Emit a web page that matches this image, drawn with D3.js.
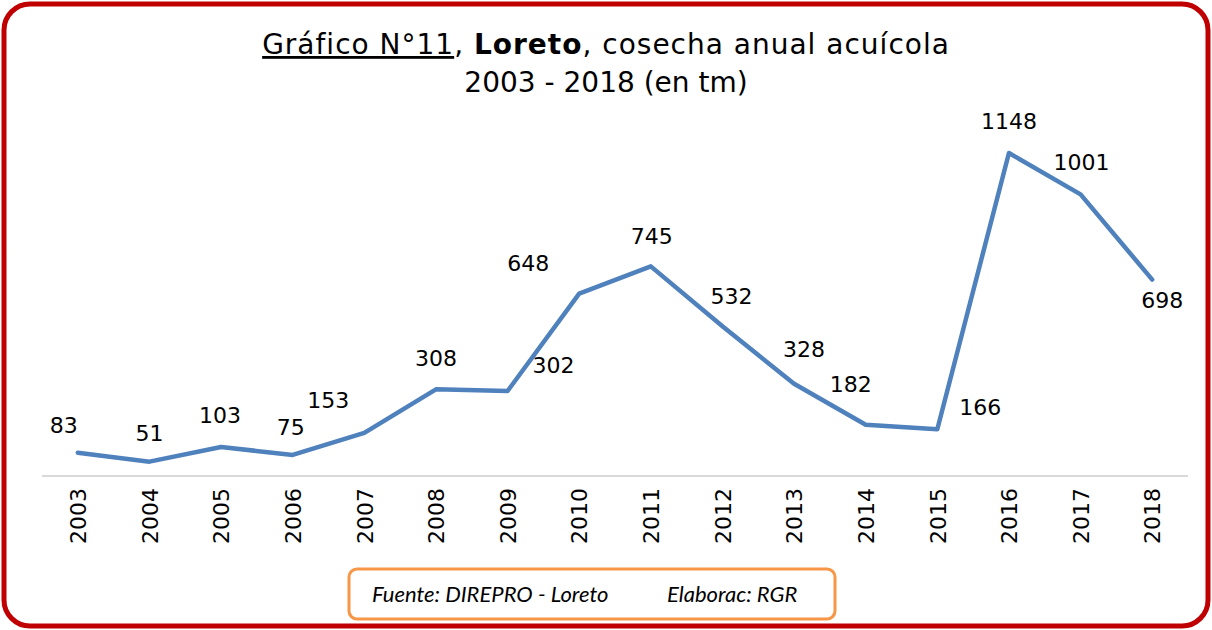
<!DOCTYPE html>
<html>
<head>
<meta charset="utf-8">
<script src="https://cdn.jsdelivr.net/npm/d3@7"></script>
<style>
  body { margin: 0; background: #fff; }
  svg { display: block; }
</style>
</head>
<body>
<svg id="chart" width="1212" height="630"></svg>
<script>

// data
const years = [ "2003", "2004", "2005", "2006", "2007", "2008", "2009", "2010",
                "2011", "2012", "2013", "2014", "2015", "2016", "2017", "2018" ];
const harvest = [ 83, 51, 103, 75, 153, 308, 302, 648, 745, 532, 328, 182, 166, 1148, 1001, 698 ];

// where each value label sits relative to its point (like Excel's manual placement)
const labelOffsets = [
  [ -14, -20 ], [ 0, -21 ], [ -1, -24 ], [ -2, -20 ], [ -36, -25 ], [ 0, -23 ],
  [ 46, -18 ], [ -51, -23 ], [ 1, -22 ], [ 9, -22 ], [ 10, -27 ], [ -15, -33 ],
  [ 43, -14 ], [ 0, -24 ], [ 1, -24 ], [ 10, 28 ]
];

const width = 1212, height = 630;
const svg = d3.select( "#chart" );
const font = "'DejaVu Sans', sans-serif";

// outer red frame
svg.append( "rect" )
  .attr( "x", 4 ).attr( "y", 4 )
  .attr( "width", width - 8 ).attr( "height", height - 8 )
  .attr( "rx", 26 ).attr( "ry", 26 )
  .attr( "fill", "#fff" )
  .attr( "stroke", "#C00000" )
  .attr( "stroke-width", 5 );

// title
const title = svg.append( "text" )
  .attr( "x", 606 ).attr( "y", 54 )
  .attr( "text-anchor", "middle" )
  .style( "font-family", font )
  .style( "font-size", "28px" )
  .style( "letter-spacing", "1px" )
  .attr( "fill", "#000" );
title.append( "tspan" ).attr( "text-decoration", "underline" ).text( "Gráfico N°11" );
title.append( "tspan" ).text( ", " );
title.append( "tspan" ).style( "font-weight", "bold" ).text( "Loreto" );
title.append( "tspan" ).text( ", cosecha anual acuícola" );

svg.append( "text" )
  .attr( "x", 606 ).attr( "y", 92 )
  .attr( "text-anchor", "middle" )
  .style( "font-family", font )
  .style( "font-size", "28px" )
  .text( "2003 - 2018 (en tm)" );

// scales
const x = d3.scalePoint()
  .domain( years )
  .range( [ 42, 1188 ] )
  .padding( 0.5 );

const y = d3.scaleLinear()
  .domain( [ 0, 1148 ] )
  .range( [ 476, 153 ] );

// x axis
const xAxis = svg.append( "g" )
  .attr( "transform", "translate(0," + y( 0 ) + ")" )
  .call( d3.axisBottom( x ).tickSize( 0 ).tickPadding( 0 ) );

xAxis.select( ".domain" )
  .attr( "d", "M42,0H1188" )
  .attr( "stroke", "#D9D9D9" )
  .attr( "stroke-width", 2 );

xAxis.selectAll( "text" )
  .attr( "transform", "rotate(-90)" )
  .attr( "x", -12 ).attr( "y", 0 )
  .attr( "dy", "0.35em" )
  .attr( "text-anchor", "end" )
  .style( "font-family", font )
  .style( "font-size", "22px" )
  .attr( "fill", "#000" );

// line
const line = d3.line()
  .x( ( d, i ) => x( years[ i ] ) )
  .y( d => y( d ) );

svg.append( "path" )
  .datum( harvest )
  .attr( "d", line )
  .attr( "fill", "none" )
  .attr( "stroke", "#4F81BD" )
  .attr( "stroke-width", 4.5 )
  .attr( "stroke-linejoin", "round" )
  .attr( "stroke-linecap", "round" );

// value labels
svg.selectAll( "text.valueLabel" )
  .data( harvest )
  .enter().append( "text" )
    .attr( "class", "valueLabel" )
    .attr( "x", ( d, i ) => x( years[ i ] ) + labelOffsets[ i ][ 0 ] )
    .attr( "y", ( d, i ) => y( d ) + labelOffsets[ i ][ 1 ] )
    .attr( "text-anchor", "middle" )
    .style( "font-family", font )
    .style( "font-size", "22px" )
    .attr( "fill", "#000" )
    .text( d => d );

// source box
svg.append( "rect" )
  .attr( "x", 349 ).attr( "y", 569 )
  .attr( "width", 486 ).attr( "height", 50 )
  .attr( "rx", 8 ).attr( "ry", 8 )
  .attr( "fill", "#fff" )
  .attr( "stroke", "#F79646" )
  .attr( "stroke-width", 3 );

svg.append( "text" )
  .attr( "x", 372 ).attr( "y", 602 )
  .style( "font-family", "Lato, sans-serif" )
  .style( "font-style", "italic" )
  .style( "font-size", "22px" )
  .text( "Fuente: DIREPRO - Loreto" );

svg.append( "text" )
  .attr( "x", 667 ).attr( "y", 602 )
  .style( "font-family", "Lato, sans-serif" )
  .style( "font-style", "italic" )
  .style( "font-size", "22px" )
  .text( "Elaborac: RGR" );

</script>
</body>
</html>
